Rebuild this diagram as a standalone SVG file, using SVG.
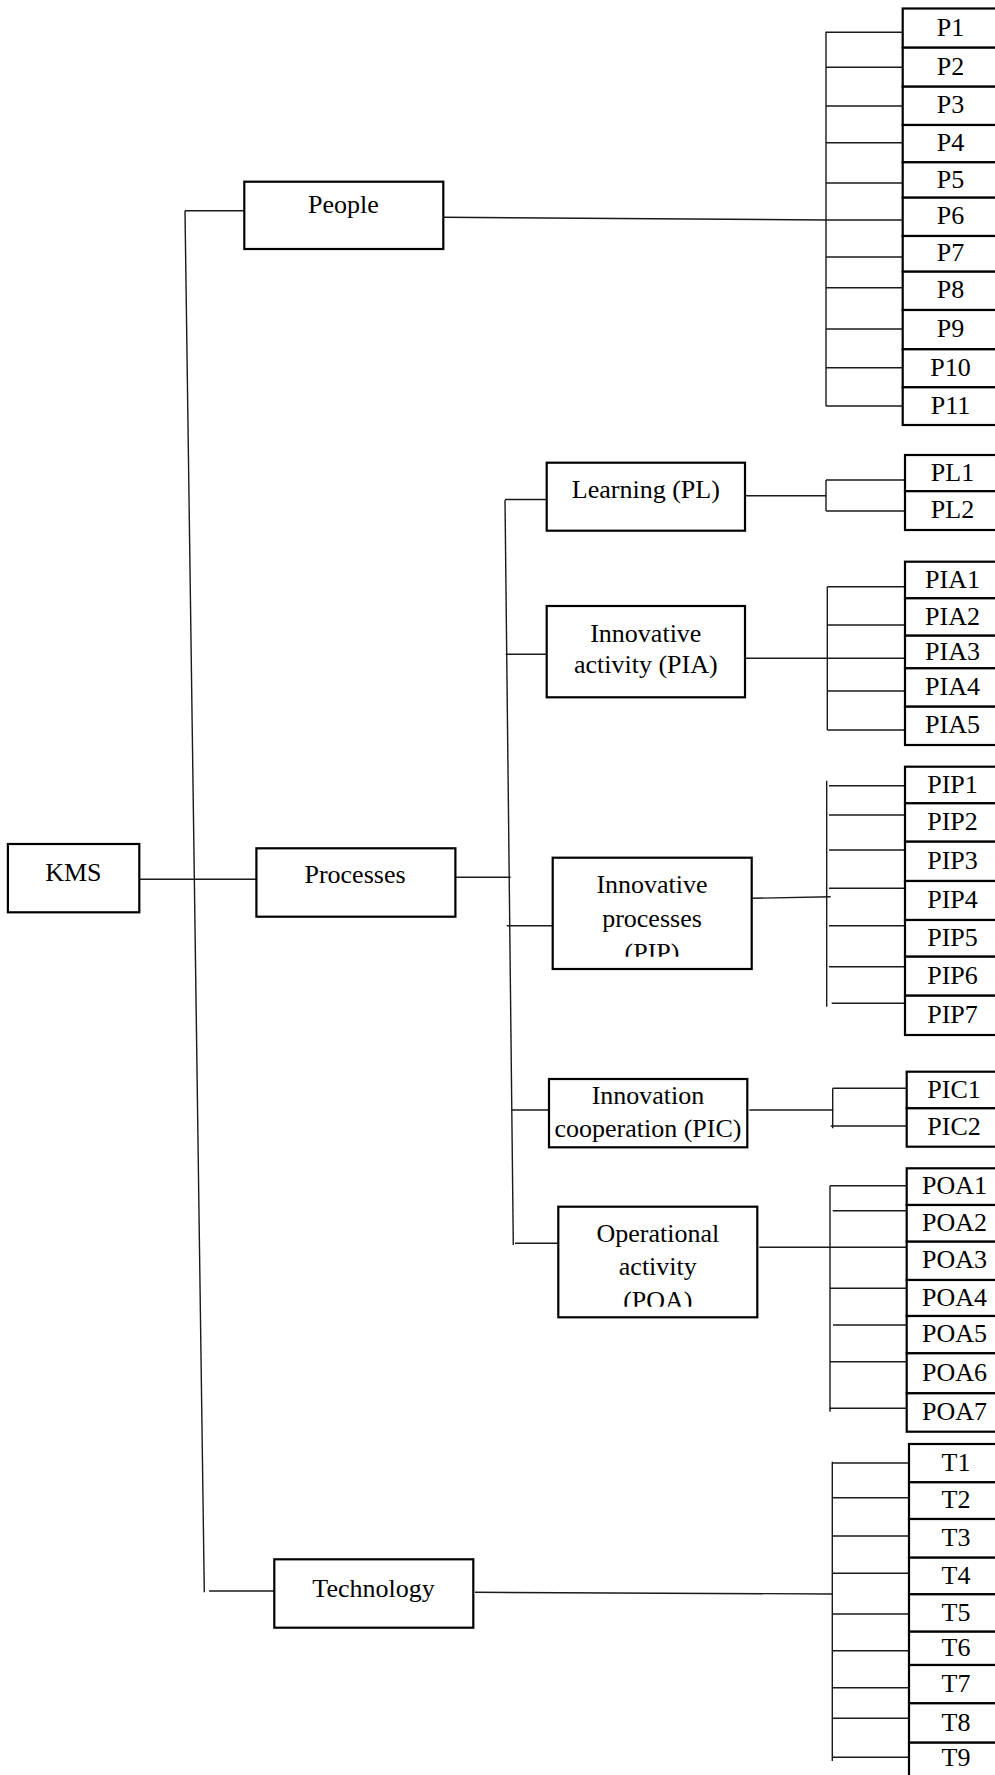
<svg xmlns="http://www.w3.org/2000/svg" width="995" height="1775" viewBox="0 0 995 1775">
  <style>
    .box { fill: #fff; stroke: #000; stroke-width: 2.2; }
    .ln { fill: none; stroke: #1a1a1a; stroke-width: 1.4; }
    .t { font-family: "Liberation Serif", "Times New Roman", serif; font-size: 26px; text-anchor: middle; fill: #000; }
  </style>
  <defs>
    <clipPath id="clipPIP"><rect x="552" y="857" width="200" height="99.7"/></clipPath>
    <clipPath id="clipPOA"><rect x="558" y="1206" width="200" height="100.7"/></clipPath>
  </defs>
  <rect width="995" height="1775" fill="#fff"/>

  <!-- connectors -->
  <g id="connectors" class="ln">
    <!-- trunk from KMS -->
    <path d="M185 210.7 L204.3 1592.3"/>
    <path d="M185 210.7 H244.3"/>
    <path d="M139.3 879.3 H256.4"/>
    <path d="M209 1591 H274.3"/>
    <!-- processes branch -->
    <path d="M455.4 877.3 H510.7"/>
    <path d="M505 500 L513.3 1245"/>
    <path d="M505 499.5 H546.7"/>
    <path d="M505.7 654.3 H548"/>
    <path d="M506.7 925.7 H556.7"/>
    <path d="M511.7 1110 H549"/>
    <path d="M515 1243.3 H560.7"/>
    <!-- people indicators -->
    <path d="M443.3 217.3 L826 220"/>
    <path d="M826 31.7 V406"/>
    <path d="M826 32.3 H903.3 M826 67.3 H903.3 M826 106 H903.3 M826 142.7 H903.3 M826 183 H903.3 M826 220 H903.3 M826 257 H903.3 M826 287.7 H903.3 M826 329 H903.3 M826 367.7 H903.3 M826 406 H903.3"/>
    <!-- learning indicators -->
    <path d="M745 495.7 H826.7"/>
    <path d="M826 480 V511"/>
    <path d="M826 480 H905 M826 511 H905"/>
    <!-- innovative activity indicators -->
    <path d="M745 658.3 H905"/>
    <path d="M827.3 586.7 V730"/>
    <path d="M827.3 586.7 H905 M827.3 625 H905 M827.3 691 H905 M827.3 730 H905"/>
    <!-- innovative processes indicators -->
    <path d="M751.7 898.3 L830.7 896.7"/>
    <path d="M826.7 780.7 V1006.7"/>
    <path d="M829 785.7 H906 M829 815 H906 M829 850 H906 M829 888.3 H906 M829 925.7 H906 M829 966.7 H906 M831.7 1003.3 H908"/>
    <!-- innovation cooperation indicators -->
    <path d="M749.3 1110 H833.3"/>
    <path d="M832.7 1088.3 V1128.3"/>
    <path d="M832.7 1088.3 H908 M830.7 1126 H908"/>
    <!-- operational activity indicators -->
    <path d="M759.3 1247.3 H908"/>
    <path d="M830 1185.7 V1411.7"/>
    <path d="M830 1185.7 H906.7 M832.7 1210.7 H908 M830 1288.3 H908 M833 1325 H910.7 M830 1361.7 H908 M829.3 1408.3 H906.7"/>
    <!-- technology indicators -->
    <path d="M475 1592.3 L832 1594"/>
    <path d="M832.3 1461.7 V1761"/>
    <path d="M832 1463 H910 M832 1497.7 H910 M832 1536 H910 M832 1573.3 H910 M832 1614 H910 M832 1650.7 H910 M832 1687.7 H910 M832 1718.3 H910 M832 1757.3 H910"/>
  </g>

  <!-- main nodes -->
  <g id="kms"><rect class="box" x="7.9" y="844" width="131.4" height="68.3"/><text class="t" x="73.4" y="880.5">KMS</text></g>
  <g id="people"><rect class="box" x="244.3" y="181.7" width="199" height="67.3"/><text class="t" x="343.5" y="213.3">People</text></g>
  <g id="processes"><rect class="box" x="256.4" y="848.3" width="199" height="68.4"/><text class="t" x="355" y="883">Processes</text></g>
  <g id="technology"><rect class="box" x="274.3" y="1559.3" width="199" height="68.4"/><text class="t" x="373.5" y="1597">Technology</text></g>

  <g id="learning"><rect class="box" x="546.7" y="462.7" width="198.3" height="68"/><text class="t" x="645.8" y="498.3">Learning (PL)</text></g>
  <g id="pia"><rect class="box" x="546.7" y="606" width="198.3" height="91.3"/>
    <text class="t" x="645.8" y="641.7">Innovative</text><text class="t" x="645.8" y="673.3">activity (PIA)</text></g>
  <g id="pip"><rect class="box" x="552.7" y="857.7" width="199" height="111.3"/>
    <g clip-path="url(#clipPIP)"><text class="t" x="652" y="893.3">Innovative</text><text class="t" x="652" y="926.7">processes</text><text class="t" x="652" y="961">(PIP)</text></g></g>
  <g id="pic"><rect class="box" x="549" y="1079" width="198.3" height="68.3"/>
    <text class="t" x="648" y="1104">Innovation</text><text class="t" x="648" y="1136.7">cooperation (PIC)</text></g>
  <g id="poa"><rect class="box" x="558.3" y="1206.7" width="199" height="110.6"/>
    <g clip-path="url(#clipPOA)"><text class="t" x="657.8" y="1242.3">Operational</text><text class="t" x="657.8" y="1275">activity</text><text class="t" x="657.8" y="1309">(POA)</text></g></g>

  <!-- people items -->
  <g id="p1"><rect class="box" x="902.7" y="8.5" width="100" height="39.2"/><text class="t" x="950.5" y="35.6">P1</text></g>
  <g id="p2"><rect class="box" x="902.7" y="47.7" width="100" height="39"/><text class="t" x="950.5" y="74.7">P2</text></g>
  <g id="p3"><rect class="box" x="902.7" y="86.7" width="100" height="38.3"/><text class="t" x="950.5" y="113.4">P3</text></g>
  <g id="p4"><rect class="box" x="902.7" y="125" width="100" height="37.3"/><text class="t" x="950.5" y="151.2">P4</text></g>
  <g id="p5"><rect class="box" x="902.7" y="162.3" width="100" height="35.4"/><text class="t" x="950.5" y="187.5">P5</text></g>
  <g id="p6"><rect class="box" x="902.7" y="197.7" width="100" height="38.3"/><text class="t" x="950.5" y="224.4">P6</text></g>
  <g id="p7"><rect class="box" x="902.7" y="236" width="100" height="35.7"/><text class="t" x="950.5" y="261.4">P7</text></g>
  <g id="p8"><rect class="box" x="902.7" y="271.7" width="100" height="38.3"/><text class="t" x="950.5" y="298.4">P8</text></g>
  <g id="p9"><rect class="box" x="902.7" y="310" width="100" height="39.3"/><text class="t" x="950.5" y="337.2">P9</text></g>
  <g id="p10"><rect class="box" x="902.7" y="349.3" width="100" height="38"/><text class="t" x="950.5" y="375.8">P10</text></g>
  <g id="p11"><rect class="box" x="902.7" y="387.3" width="100" height="37.7"/><text class="t" x="950.5" y="413.7">P11</text></g>

  <!-- learning items -->
  <g id="pl1"><rect class="box" x="905" y="455" width="100" height="36.2"/><text class="t" x="952.5" y="480.6">PL1</text></g>
  <g id="pl2"><rect class="box" x="905" y="491.2" width="100" height="38.8"/><text class="t" x="952.5" y="518.1">PL2</text></g>

  <!-- innovative activity items -->
  <g id="pia1"><rect class="box" x="905" y="561.7" width="100" height="36.6"/><text class="t" x="952.5" y="587.5">PIA1</text></g>
  <g id="pia2"><rect class="box" x="905" y="598.3" width="100" height="37.4"/><text class="t" x="952.5" y="624.5">PIA2</text></g>
  <g id="pia3"><rect class="box" x="905" y="635.7" width="100" height="32.6"/><text class="t" x="952.5" y="659.5">PIA3</text></g>
  <g id="pia4"><rect class="box" x="905" y="668.3" width="100" height="38.4"/><text class="t" x="952.5" y="695">PIA4</text></g>
  <g id="pia5"><rect class="box" x="905" y="706.7" width="100" height="38.3"/><text class="t" x="952.5" y="733.4">PIA5</text></g>

  <!-- innovative processes items -->
  <g id="pip1"><rect class="box" x="905" y="766.7" width="100" height="36.6"/><text class="t" x="952.5" y="792.5">PIP1</text></g>
  <g id="pip2"><rect class="box" x="905" y="803.3" width="100" height="38.4"/><text class="t" x="952.5" y="830">PIP2</text></g>
  <g id="pip3"><rect class="box" x="905" y="841.7" width="100" height="39.3"/><text class="t" x="952.5" y="868.9">PIP3</text></g>
  <g id="pip4"><rect class="box" x="905" y="881" width="100" height="39"/><text class="t" x="952.5" y="908">PIP4</text></g>
  <g id="pip5"><rect class="box" x="905" y="920" width="100" height="36.7"/><text class="t" x="952.5" y="945.9">PIP5</text></g>
  <g id="pip6"><rect class="box" x="905" y="956.7" width="100" height="39"/><text class="t" x="952.5" y="983.7">PIP6</text></g>
  <g id="pip7"><rect class="box" x="905" y="995.7" width="100" height="39.3"/><text class="t" x="952.5" y="1022.9">PIP7</text></g>

  <!-- innovation cooperation items -->
  <g id="pic1"><rect class="box" x="906.7" y="1071.7" width="100" height="36.6"/><text class="t" x="954" y="1097.5">PIC1</text></g>
  <g id="pic2"><rect class="box" x="906.7" y="1108.3" width="100" height="38.4"/><text class="t" x="954" y="1135">PIC2</text></g>

  <!-- operational activity items -->
  <g id="poa1"><rect class="box" x="906.7" y="1168.3" width="100" height="36.7"/><text class="t" x="954.5" y="1194.2">POA1</text></g>
  <g id="poa2"><rect class="box" x="906.7" y="1205" width="100" height="36.7"/><text class="t" x="954.5" y="1230.9">POA2</text></g>
  <g id="poa3"><rect class="box" x="906.7" y="1241.7" width="100" height="38.3"/><text class="t" x="954.5" y="1268.4">POA3</text></g>
  <g id="poa4"><rect class="box" x="906.7" y="1280" width="100" height="36"/><text class="t" x="954.5" y="1305.5">POA4</text></g>
  <g id="poa5"><rect class="box" x="906.7" y="1316" width="100" height="37.3"/><text class="t" x="954.5" y="1342.2">POA5</text></g>
  <g id="poa6"><rect class="box" x="906.7" y="1353.3" width="100" height="40"/><text class="t" x="954.5" y="1380.8">POA6</text></g>
  <g id="poa7"><rect class="box" x="906.7" y="1393.3" width="100" height="38.4"/><text class="t" x="954.5" y="1420">POA7</text></g>

  <!-- technology items -->
  <g id="t1"><rect class="box" x="909" y="1444" width="100" height="38.3"/><text class="t" x="956" y="1470.7">T1</text></g>
  <g id="t2"><rect class="box" x="909" y="1482.3" width="100" height="36.7"/><text class="t" x="956" y="1508.2">T2</text></g>
  <g id="t3"><rect class="box" x="909" y="1519" width="100" height="38.7"/><text class="t" x="956" y="1545.9">T3</text></g>
  <g id="t4"><rect class="box" x="909" y="1557.7" width="100" height="36.6"/><text class="t" x="956" y="1583.5">T4</text></g>
  <g id="t5"><rect class="box" x="909" y="1594.3" width="100" height="37.4"/><text class="t" x="956" y="1620.5">T5</text></g>
  <g id="t6"><rect class="box" x="909" y="1631.7" width="100" height="33.3"/><text class="t" x="956" y="1655.9">T6</text></g>
  <g id="t7"><rect class="box" x="909" y="1665" width="100" height="38.3"/><text class="t" x="956" y="1691.7">T7</text></g>
  <g id="t8"><rect class="box" x="909" y="1703.3" width="100" height="39.4"/><text class="t" x="956" y="1730.5">T8</text></g>
  <g id="t9"><rect class="box" x="909" y="1742.7" width="100" height="40"/><text class="t" x="956" y="1766">T9</text></g>
</svg>
